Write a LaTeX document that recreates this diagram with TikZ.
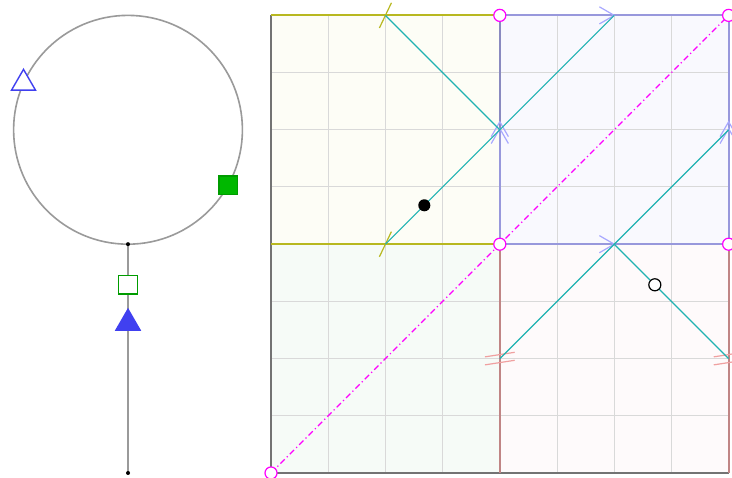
\documentclass[tikz,border=0pt]{standalone}
\usepackage{xcolor}
\usetikzlibrary{shapes.geometric}

\definecolor{loopgray}{HTML}{9A9A9A}
\definecolor{markblue}{HTML}{4040F0}
\definecolor{markgreen}{HTML}{00B800}
\definecolor{cellyellow}{HTML}{FDFDF6}
\definecolor{cellgreen}{HTML}{F6FBF7}
\definecolor{cellblue}{HTML}{F9F9FE}
\definecolor{cellpink}{HTML}{FEFAFB}
\definecolor{edgeolive}{HTML}{B8B820}
\definecolor{edgeblue}{HTML}{9898DC}
\definecolor{edgeslate}{HTML}{8A8AC0}
\definecolor{edgerose}{HTML}{C08585}
\definecolor{chevblue}{HTML}{A8A8FF}
\definecolor{tickrose}{HTML}{F0A0A0}
\definecolor{pathteal}{HTML}{20B2B2}
\definecolor{vertexpink}{HTML}{FF00FF}

\begin{document}
\begin{tikzpicture}[
  tri/.style={regular polygon, regular polygon sides=3, minimum size=13.8pt, inner sep=0pt, line width=0.7pt},
  sq/.style={rectangle, minimum size=9.2pt, inner sep=0pt, line width=0.7pt},
  vertex/.style={circle, draw=vertexpink, fill=white, minimum size=6pt, inner sep=0pt, line width=0.6pt},
  dot/.style={circle, fill=black, minimum size=2pt, inner sep=0pt}]
  \useasboundingbox (-4.738,-0.087) rectangle (8.059,8.269);

  % Loop with its tail
  \draw[loopgray, line width=0.8pt] (-2.5,6) circle (2);
  \draw[loopgray, line width=0.8pt] (-2.5,4) -- (-2.5,0);
  \node[dot] (top) at (-2.5,4) {};
  \node[dot] (base) at (-2.5,0) {};
  \node[tri, draw=markblue, fill=white] (opentri) at ([shift={(-2.5,6)}]156:2) {};
  \node[sq, draw=markgreen!85!black, fill=markgreen] (fullsq) at ([shift={(-2.5,6)}]-29:2) {};
  \node[sq, draw=markgreen!85!black, fill=white] (opensq) at (-2.5,3.29) {};
  \node[tri, draw=markblue, fill=markblue] (fulltri) at (-2.5,2.62) {};

  % Cells
  \fill[cellgreen] (0,0) rectangle (4,4);
  \fill[cellyellow] (0,4) rectangle (4,8);
  \fill[cellblue] (4,4) rectangle (8,8);
  \fill[cellpink] (4,0) rectangle (8,4);
  \draw[gray!30, line width=0.5pt] (0,0) grid (8,8);

  % Edges
  \draw[gray!90!black, line width=1pt] (0,8) -- (0,0) -- (8,0);
  \draw[edgeolive, line width=1pt] (0,8) -- (4,8);
  \draw[edgeolive, line width=1pt] (0,4) -- (4,4);
  \draw[edgeblue, line width=1pt] (4,8) -- (8,8) -- (8,4) -- (4,4) -- (4,6);
  \draw[edgeslate, line width=1pt] (4,6) -- (4,8);
  \draw[edgerose, line width=1pt] (4,4) -- (4,0);
  \draw[edgerose, line width=1pt] (8,4) -- (8,0);

  % Edge marks
  \foreach \y in {8,4} {
    \draw[edgeolive, line width=0.6pt] (1.895,\y-0.22) -- (2.105,\y+0.22);
    \draw[chevblue, line width=0.6pt] (5.74,\y+0.15) -- (6,\y) -- (5.74,\y-0.15);
  }
  \foreach \x in {4,8} {
    \foreach \d in {0,0.12}
      \draw[chevblue, line width=0.6pt] (\x-0.15,5.76+\d) -- (\x,6.02+\d) -- (\x+0.15,5.76+\d);
    \foreach \d in {0.07,-0.07}
      \draw[tickrose, line width=0.6pt] (\x-0.26,2-0.04+\d) -- (\x+0.26,2+0.04+\d);
  }

  % Diagonal
  \draw[vertexpink, line width=0.6pt, dash pattern=on 3pt off 1.5pt on 0.6pt off 1.5pt] (0,0) -- (8,8);

  % Path pieces
  \draw[pathteal, line width=0.6pt] (2,8) -- (4,6);
  \draw[pathteal, line width=0.6pt] (2,4) -- (6,8);
  \draw[pathteal, line width=0.6pt] (6,4) -- (8,6);
  \draw[pathteal, line width=0.6pt] (4,2) -- (6,4) -- (8,2);
  \node[circle, fill=black, minimum size=6pt, inner sep=0pt] (startpt) at (2.68,4.68) {};
  \node[circle, draw=black, fill=white, minimum size=6pt, inner sep=0pt, line width=0.6pt] (endpt) at (6.71,3.29) {};

  % Corners
  \foreach \p/\name in {{0,0}/c00, {4,4}/c44, {4,8}/c48, {8,8}/c88, {8,4}/c84}
    \node[vertex] (\name) at (\p) {};
\end{tikzpicture}
\end{document}
